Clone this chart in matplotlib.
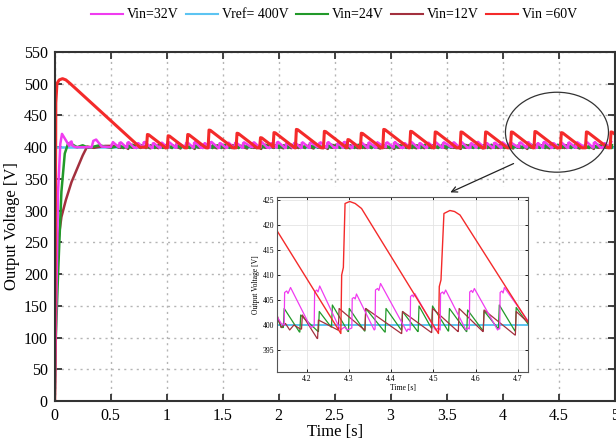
import numpy as np
import matplotlib
matplotlib.use("Agg")
from matplotlib import pyplot as plt
from matplotlib.patches import Ellipse, Rectangle
from matplotlib.lines import Line2D

plt.rcParams['font.family'] = ['Liberation Serif', 'DejaVu Serif']

# ---- data ----
labels = ['Vin=32V', 'Vref= 400V', 'Vin=24V', 'Vin=12V', 'Vin =60V']
colors = ['#f03cf0', '#5cc4f2', '#22992a', '#a3303e', '#f42a2a']
v_ref = 400

# start-up transients (main plot)
mag_start_t = [0, 0.03, 0.05, 0.065, 0.13, 0.14, 0.15, 0.16, 0.19, 0.33, 0.345, 0.37, 0.42, 0.5, 0.52, 0.56]
mag_start_v = [0, 330, 405, 421, 402, 408, 409, 402, 400, 400, 410, 412, 401, 400, 408, 401.7]
grn_start_t = [0, 0.01, 0.03, 0.06, 0.09, 0.12, 0.16, 0.2, 0.25, 0.3, 0.4, 0.5, 0.56]
grn_start_v = [0, 100, 200, 330, 390, 406, 404, 400, 403, 399, 403, 399, 401.5]
drd_start_t = [0, 0.005, 0.015, 0.03, 0.06, 0.1, 0.15, 0.2, 0.25, 0.29, 0.35, 0.45, 0.56]
drd_start_v = [0, 100, 180, 250, 290, 317, 345, 366, 387, 401, 399, 402, 402]
red_start_t = [0, 0.01, 0.02, 0.04, 0.07, 0.10, 0.14, 0.76, 0.82]
red_start_v = [0, 470, 500, 506, 508, 506, 500, 400, 400]

# red (Vin=60V) pulses: rise time and peak value
red_pulse_t = [0.82, 1.005, 1.18, 1.37, 1.62, 1.83, 1.95, 2.15, 2.40, 2.61, 2.73,
               2.93, 3.17, 3.39, 3.62, 3.84, 4.07, 4.28, 4.516, 4.74, 4.96]
red_pulse_peak = [420, 418, 420, 427, 422, 415, 423, 428, 425, 412, 422,
                  428, 425, 424, 424, 424, 424, 424.7, 422.9, 424, 424]

# zoomed window (inset)
red_in_t = [4.129, 4.281, 4.283, 4.287, 4.291, 4.302, 4.315, 4.33, 4.512, 4.514,
            4.518, 4.525, 4.539, 4.55, 4.563, 4.725]
red_in_v = [419, 398.3, 410, 411.5, 424.3, 424.7, 424.3, 423.3, 398.3, 407.7,
            409, 422.3, 422.9, 422.7, 422, 400.5]

mag_in_t = [4.130, 4.140, 4.147, 4.148, 4.153, 4.156, 4.162,
            4.205, 4.210, 4.218, 4.219, 4.224, 4.227, 4.231,
            4.280, 4.290, 4.296, 4.307, 4.308, 4.312, 4.315, 4.318,
            4.360, 4.362, 4.363, 4.368, 4.371, 4.375,
            4.437, 4.440, 4.445, 4.446, 4.450, 4.453, 4.456,
            4.505, 4.512, 4.516, 4.517, 4.522, 4.525, 4.529,
            4.577, 4.582, 4.585, 4.586, 4.590, 4.593, 4.597,
            4.652, 4.655, 4.657, 4.658, 4.662, 4.665, 4.668,
            4.725]
mag_in_v = [401.7, 400.3, 400.0, 406.5, 406.8, 406.3, 407.5,
            400.3, 399.5, 399.8, 406.6, 407.0, 406.6, 407.8,
            399.0, 399.6, 399.0, 399.4, 405.3, 405.5, 405.2, 406.2,
            399.0, 399.2, 407.0, 407.3, 406.9, 408.3,
            398.7, 399.2, 399.0, 405.7, 406.0, 405.6, 406.3,
            399.0, 399.4, 399.0, 406.3, 406.6, 406.2, 407.0,
            399.0, 399.4, 399.2, 406.6, 406.9, 406.5, 407.3,
            399.0, 399.3, 399.2, 406.5, 406.8, 406.4, 407.5,
            400.7]

grn_rise_t = [4.145, 4.184, 4.228, 4.259, 4.299, 4.338, 4.386, 4.425,
              4.464, 4.496, 4.536, 4.579, 4.618, 4.654, 4.694]
grn_peak_v = [403.3, 402.0, 402.7, 404.0, 403.3, 403.3, 403.3, 402.7,
              403.8, 403.8, 403.3, 403.0, 402.8, 404.0, 403.5]
grn_low_v = [398.6, 398.7, 399.6, 398.7, 398.8, 398.6, 399.0, 398.7,
             399.4, 398.8, 398.7, 398.9, 399.3, 398.8, 400.2]

drd_pre_t = [4.13, 4.14, 4.15, 4.16, 4.17, 4.185]
drd_pre_v = [402.0, 399.5, 400.3, 399.0, 400.0, 399.2]
drd_rise_t = [4.188, 4.226, 4.275, 4.338, 4.425, 4.496, 4.559, 4.618, 4.694]
drd_peak_v = [402.0, 401.0, 403.3, 403.3, 402.7, 403.3, 403.3, 403.0, 402.7]
drd_low_v = [397.3, 399.0, 399.0, 398.3, 398.5, 398.7, 398.7, 398.0, 400.5]


def sawtooth(rise_t, peak_v, low_v, t_end, pre_t=(), pre_v=()):
    t, v = list(pre_t), list(pre_v)
    for i, tr in enumerate(rise_t):
        t_next = rise_t[i + 1] if i + 1 < len(rise_t) else t_end
        t += [tr, tr + 0.002, t_next - 0.001]
        v += [low_v[i - 1] if i > 0 else v[-1] if v else 399, peak_v[i], low_v[i]]
    return t, v


grn_in_t, grn_in_v = sawtooth(grn_rise_t, grn_peak_v, grn_low_v, 4.725,
                              [4.13, 4.14], [401.5, 399.5])
drd_in_t, drd_in_v = sawtooth(drd_rise_t, drd_peak_v, drd_low_v, 4.725,
                              drd_pre_t, drd_pre_v)


def full_trace(start_t, start_v, win_t, win_v, t_end=5.0):
    # start-up part, then the steady-state window repeated
    period = win_t[-1] - win_t[0]
    t, v = list(start_t), list(start_v)
    wt = np.array(win_t)
    k = 0
    while True:
        shift = start_t[-1] - wt[0] + k * period
        seg = wt + shift
        m = seg <= t_end
        t += list(seg[m]); v += list(np.array(win_v)[m])
        if seg[-1] >= t_end:
            break
        k += 1
    return t, v


def red_trace():
    t, v = list(red_start_t), list(red_start_v)
    for i, (tp, vp) in enumerate(zip(red_pulse_t, red_pulse_peak)):
        t_next = red_pulse_t[i + 1] if i + 1 < len(red_pulse_t) else 5.0
        t += [tp, tp + 0.008, tp + 0.02]
        v += [400, vp, vp - 0.5]
        t_flat = tp + 0.02 + (vp - 0.5 - 399) / 136
        if t_flat < t_next:
            t += [t_flat, t_next]; v += [399, 399]
        else:
            t.append(t_next); v.append(vp - 0.5 - 136 * (t_next - tp - 0.02))
    return t, v


mag_t, mag_v = full_trace(mag_start_t, mag_start_v, mag_in_t, mag_in_v)
grn_t, grn_v = full_trace(grn_start_t, grn_start_v, grn_in_t, grn_in_v)
drd_t, drd_v = full_trace(drd_start_t, drd_start_v, drd_in_t, drd_in_v)
red_t, red_v = red_trace()

# ---- figure ----
fig = plt.figure(figsize=(6.16, 4.43), dpi=100)
ax = fig.add_axes([0.0888, 0.0948, 0.909, 0.7878])

ax.plot([0, 5], [v_ref, v_ref], color=colors[1], lw=1.8, zorder=2)
ax.plot(drd_t, drd_v, color=colors[3], lw=1.8, zorder=2)
ax.plot(grn_t, grn_v, color=colors[2], lw=1.8, zorder=2)
ax.plot(mag_t, mag_v, color=colors[0], lw=1.8, zorder=2.1)
ax.plot(red_t, red_v, color=colors[4], lw=2.2, zorder=2.2)

ax.set_xlim(0, 5)
ax.set_ylim(0, 550)
ax.set_xticks(np.arange(0, 5.01, 0.5))
ax.set_xticklabels(['0', '0.5', '1', '1.5', '2', '2.5', '3', '3.5', '4', '4.5', '5'])
ax.set_yticks(np.arange(0, 551, 50))
ax.grid(True, linestyle=(0, (1.5, 3)), color='#b5b5b5', lw=1)
ax.tick_params(direction='in', top=True, right=True, length=5, width=1.3,
               labelsize=11.5, colors='#333333', labelcolor='black', pad=5)
for s in ax.spines.values():
    s.set_linewidth(1.5)
    s.set_color('#333333')
ax.set_xlabel('Time [s]', fontsize=12, labelpad=0)
ax.set_ylabel('Output Voltage [V]', fontsize=12, labelpad=3)

# white panel behind the zoomed view
ax.add_patch(Rectangle((0.363, 0.023), 0.491, 0.59, transform=ax.transAxes,
                       facecolor='white', edgecolor='none', zorder=3))
ax.add_patch(Ellipse((4.485, 423.6), 0.92, 126, facecolor='none',
                     edgecolor='#333333', lw=0.9, zorder=4))
ax.annotate('', xy=(3.51, 327), xytext=(4.12, 376),
            arrowprops=dict(arrowstyle='->', color='#222222', lw=0.9),
            zorder=5, annotation_clip=False)

# inset
axi = fig.add_axes([0.4497, 0.1603, 0.4075, 0.395])
axi.plot([4.1, 4.8], [v_ref, v_ref], color=colors[1], lw=1.4)
axi.plot(grn_in_t, grn_in_v, color=colors[2], lw=0.9)
axi.plot(drd_in_t, drd_in_v, color=colors[3], lw=0.9)
axi.plot(mag_in_t, mag_in_v, color=colors[0], lw=0.9)
axi.plot(red_in_t, red_in_v, color=colors[4], lw=1.0)
axi.set_xlim(4.13, 4.724)
axi.set_ylim(390.6, 425.6)
axi.set_xticks([4.2, 4.3, 4.4, 4.5, 4.6, 4.7])
axi.set_yticks([395, 400, 405, 410, 415, 420, 425])
axi.grid(True, color='#e4e4e4', lw=0.6)
axi.tick_params(direction='in', top=True, right=True, length=2, width=0.6,
                labelsize=5.5, pad=2)
for s in axi.spines.values():
    s.set_linewidth(0.8)
    s.set_color('#555555')
axi.set_xlabel('Time [s]', fontsize=5.5, labelpad=1)
axi.set_ylabel('Output Voltage [V]', fontsize=5.5, labelpad=2)

# legend across the top
handles = [Line2D([0], [0], color=c, lw=1.5) for c in colors]
fig.legend(handles, labels, loc='center', bbox_to_anchor=(334 / 616, 1 - 15 / 443),
           ncol=5, frameon=False, fontsize=10, handlelength=2.3,
           handletextpad=0.3, columnspacing=0.5)

fig.savefig('out.png', dpi=100)
